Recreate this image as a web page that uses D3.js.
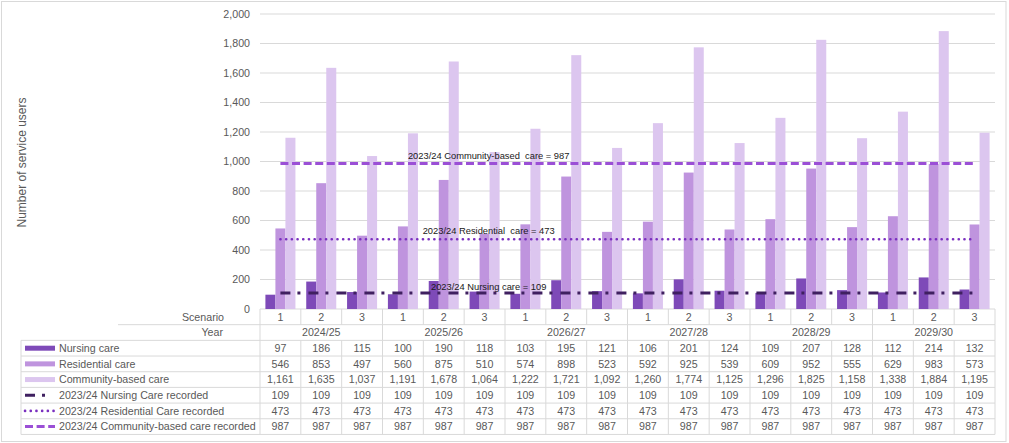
<!DOCTYPE html>
<html>
<head>
<meta charset="utf-8">
<script src="https://cdn.jsdelivr.net/npm/d3@7"></script>
<style>
  body { margin: 0; background: #fff; }
  svg { display: block; font-family: "Liberation Sans", Arial, sans-serif; }
</style>
</head>
<body>
<div id="chart"></div>
<script>
// Chart data
const years = ['2024/25', '2025/26', '2026/27', '2027/28', '2028/29', '2029/30'];
const scenarios = ['1', '2', '3'];
const nursing = [97, 186, 115, 100, 190, 118, 103, 195, 121, 106, 201, 124, 109, 207, 128, 112, 214, 132];
const residential = [546, 853, 497, 560, 875, 510, 574, 898, 523, 592, 925, 539, 609, 952, 555, 629, 983, 573];
const community = [1161, 1635, 1037, 1191, 1678, 1064, 1222, 1721, 1092, 1260, 1774, 1125, 1296, 1825, 1158, 1338, 1884, 1195];
const nursingRecorded = [109, 109, 109, 109, 109, 109, 109, 109, 109, 109, 109, 109, 109, 109, 109, 109, 109, 109];
const residentialRecorded = [473, 473, 473, 473, 473, 473, 473, 473, 473, 473, 473, 473, 473, 473, 473, 473, 473, 473];
const communityRecorded = [987, 987, 987, 987, 987, 987, 987, 987, 987, 987, 987, 987, 987, 987, 987, 987, 987, 987];
const yTicks = [0, 200, 400, 600, 800, 1000, 1200, 1400, 1600, 1800, 2000];

// Category keys: one per (year, scenario)
const categories = [];
years.forEach(yr => scenarios.forEach(sc => categories.push({ year: yr, scenario: sc })));

// Series config
const bars = [
    { name: 'Nursing care', values: nursing, color: '#7e4ab8' },
    { name: 'Residential care', values: residential, color: '#bf94de' },
    { name: 'Community-based care', values: community, color: '#dcc6ef' }
];
const lines = [
    { name: '2023/24 Nursing Care recorded', values: nursingRecorded, color: '#3f2060', width: 3,
      dash: '10,7,3,8', cap: 'butt', label: '2023/24 Nursing care = 109', labelDy: -3 },
    { name: '2023/24 Residential Care recorded', values: residentialRecorded, color: '#7a2fbf', width: 2.6,
      dash: '0.1,5.6', cap: 'round', label: '2023/24 Residential\u00a0 care = 473', labelDy: -5 },
    { name: '2023/24 Community-based care recorded', values: communityRecorded, color: '#9b4fd6', width: 3,
      dash: '8,3.6', cap: 'butt', label: '2023/24 Community-based\u00a0 care = 987', labelDy: -4.5 }
];

const W = 1009, H = 443;
const plotLeft = 260, plotRight = 995, plotTop = 14, plotBottom = 309;
const legendLeft = 21, headerLeft = 118;
const rowH = 15.68;
const grid = '#d9d9d9';
const textColor = '#595959';
const fmt = d3.format(',');

const svg = d3.select('#chart').append('svg')
    .attr('width', W)
    .attr('height', H);

// Outer frame
svg.append('rect')
    .attr('x', 1.5).attr('y', 1.5)
    .attr('width', 1004.5).attr('height', 440)
    .attr('fill', 'none')
    .attr('stroke', grid);

// Scales
const x0 = d3.scaleBand()
    .domain(d3.range(categories.length))
    .range([plotLeft, plotRight])
    .padding(0);

const x1 = d3.scaleBand()
    .domain(bars.map(b => b.name))
    .range([0, x0.bandwidth()])
    .paddingInner(0)
    .paddingOuter(0.54);

const y = d3.scaleLinear()
    .domain([0, 2000])
    .range([plotBottom, plotTop]);

// Gridlines
svg.append('g')
    .selectAll('line')
    .data(yTicks)
    .join('line')
    .attr('x1', plotLeft).attr('x2', plotRight)
    .attr('y1', d => y(d)).attr('y2', d => y(d))
    .attr('stroke', grid)
    .attr('stroke-width', 1);

// Y axis labels
const yAxis = svg.append('g')
    .attr('transform', `translate(${plotLeft},0)`)
    .call(d3.axisLeft(y).tickValues(yTicks).tickFormat(fmt).tickSize(0).tickPadding(10));
yAxis.select('.domain').remove();
yAxis.selectAll('text')
    .attr('fill', textColor)
    .style('font-size', '10.67px')
    .style('font-family', '"Liberation Sans", Arial, sans-serif');

// Y axis title
svg.append('text')
    .attr('transform', `translate(26,${(plotTop + plotBottom) / 2 + 1}) rotate(-90)`)
    .attr('text-anchor', 'middle')
    .attr('fill', textColor)
    .style('font-size', '12px')
    .text('Number of service users');

// Bars
bars.forEach(b => {
    svg.append('g')
        .selectAll('rect')
        .data(b.values)
        .join('rect')
        .attr('x', (d, i) => x0(i) + x1(b.name))
        .attr('y', d => y(d))
        .attr('width', x1.bandwidth())
        .attr('height', d => y(0) - y(d))
        .attr('fill', b.color);
});

// Reference lines
const lineGen = d3.line()
    .x((d, i) => x0(i) + x0.bandwidth() / 2)
    .y(d => y(d));

lines.forEach(l => {
    svg.append('path')
        .datum(l.values)
        .attr('d', lineGen)
        .attr('fill', 'none')
        .attr('stroke', l.color)
        .attr('stroke-width', l.width)
        .attr('stroke-dasharray', l.dash)
        .attr('stroke-linecap', l.cap);
});

// Line labels (sit over category 6)
const labelX = x0(5) + x0.bandwidth() * 0.6;
lines.forEach(l => {
    svg.append('text')
        .attr('x', labelX)
        .attr('y', y(l.values[5]) + l.labelDy)
        .attr('text-anchor', 'middle')
        .attr('fill', '#1a1a1a')
        .style('font-size', '9.33px')
        .text(l.label);
});

// ---- Data table ----
const table = svg.append('g');
const rowY = i => plotBottom + i * rowH;   // row 0 = Scenario, 1 = Year, 2.. = series
const allSeries = [...bars, ...lines];
const nRows = 2 + allSeries.length;

// Horizontal lines
table.append('line')
    .attr('x1', headerLeft).attr('x2', plotRight)
    .attr('y1', rowY(1)).attr('y2', rowY(1))
    .attr('stroke', grid);
for (let r = 2; r <= nRows; r++) {
    table.append('line')
        .attr('x1', legendLeft).attr('x2', plotRight)
        .attr('y1', rowY(r)).attr('y2', rowY(r))
        .attr('stroke', grid);
}

// Vertical lines
const edges = d3.range(categories.length + 1).map(i => plotLeft + i * x0.step());
edges.forEach((ex, i) => {
    // scenario row
    table.append('line')
        .attr('x1', ex).attr('x2', ex)
        .attr('y1', rowY(0)).attr('y2', rowY(1))
        .attr('stroke', grid);
    // year row only at year boundaries
    if (i % 3 === 0) {
        table.append('line')
            .attr('x1', ex).attr('x2', ex)
            .attr('y1', rowY(1)).attr('y2', rowY(2))
            .attr('stroke', grid);
    }
    table.append('line')
        .attr('x1', ex).attr('x2', ex)
        .attr('y1', rowY(2)).attr('y2', rowY(nRows))
        .attr('stroke', grid);
});
table.append('line')
    .attr('x1', legendLeft).attr('x2', legendLeft)
    .attr('y1', rowY(2)).attr('y2', rowY(nRows))
    .attr('stroke', grid);

const cellText = (tx, ty, str, anchor = 'middle') => table.append('text')
    .attr('x', tx).attr('y', ty)
    .attr('dy', '0.35em')
    .attr('text-anchor', anchor)
    .attr('fill', textColor)
    .style('font-size', '10.67px')
    .text(str);

// Header labels
cellText(224, rowY(0) + rowH / 2, 'Scenario', 'end');
cellText(223, rowY(1) + rowH / 2, 'Year', 'end');

categories.forEach((c, i) => {
    cellText(x0(i) + x0.bandwidth() / 2, rowY(0) + rowH / 2, c.scenario);
});
years.forEach((yr, j) => {
    cellText(plotLeft + (j * 3 + 1.5) * x0.step(), rowY(1) + rowH / 2, yr);
});

// Series rows with legend keys
allSeries.forEach((s, k) => {
    const cy = rowY(2 + k) + rowH / 2;
    if (k < bars.length) {
        table.append('rect')
            .attr('x', 25).attr('y', cy - 2.5)
            .attr('width', 30).attr('height', 5)
            .attr('fill', s.color);
    } else {
        const keyEnd = k === bars.length ? 48 : 55;
        table.append('line')
            .attr('x1', 25).attr('x2', keyEnd)
            .attr('y1', cy).attr('y2', cy)
            .attr('stroke', s.color)
            .attr('stroke-width', s.width)
            .attr('stroke-dasharray', s.dash)
            .attr('stroke-linecap', s.cap);
    }
    cellText(59, cy, s.name, 'start');
    s.values.forEach((v, i) => {
        cellText(x0(i) + x0.bandwidth() / 2, cy, fmt(v));
    });
});
</script>
</body>
</html>
